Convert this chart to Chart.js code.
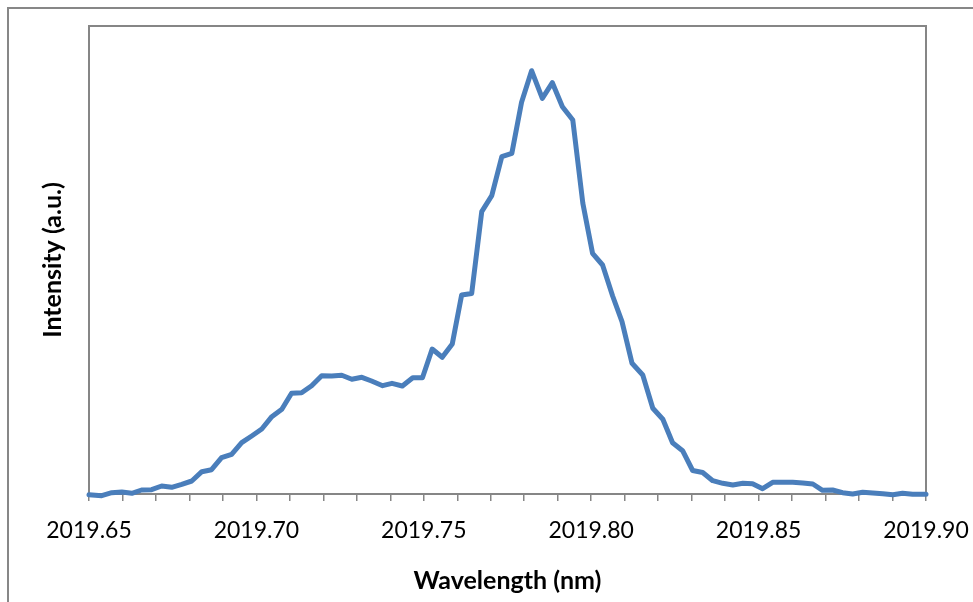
<!DOCTYPE html>
<html>
<head>
<meta charset="utf-8">
<script src="https://cdn.jsdelivr.net/npm/chart.js"></script>
<style>
    html, body { margin: 0; padding: 0; background: #fff; overflow: hidden; }
    #frame { position: absolute; left: 7px; top: 7px; width: 1000px; height: 700px; border-left: 2px solid #878787; border-top: 2px solid #878787; }
    #wrap { position: absolute; left: 0; top: 0; width: 973px; height: 602px; }
</style>
</head>
<body>
<div id="frame"></div>
<div id="wrap"><canvas id="spectrum" width="973" height="602"></canvas></div>
<script>
    // wavelength (nm)
    const wavelengths = [
        2019.6500, 2019.6538, 2019.6568, 2019.6598, 2019.6628, 2019.6657, 2019.6687, 2019.6717, 2019.6747, 2019.6777,
        2019.6807, 2019.6837, 2019.6866, 2019.6896, 2019.6926, 2019.6956, 2019.6986, 2019.7016, 2019.7046, 2019.7076,
        2019.7105, 2019.7135, 2019.7165, 2019.7195, 2019.7225, 2019.7255, 2019.7285, 2019.7315, 2019.7344, 2019.7377,
        2019.7405, 2019.7436, 2019.7467, 2019.7496, 2019.7525, 2019.7555, 2019.7585, 2019.7613, 2019.7643, 2019.7673,
        2019.7703, 2019.7733, 2019.7763, 2019.7792, 2019.7822, 2019.7854, 2019.7884, 2019.7914, 2019.7945, 2019.7975,
        2019.8004, 2019.8034, 2019.8064, 2019.8092, 2019.8122, 2019.8154, 2019.8184, 2019.8214, 2019.8243, 2019.8273,
        2019.8303, 2019.8333, 2019.8363, 2019.8393, 2019.8423, 2019.8453, 2019.8482, 2019.8512, 2019.8542, 2019.8572,
        2019.8602, 2019.8632, 2019.8662, 2019.8691, 2019.8721, 2019.8751, 2019.8781, 2019.8811, 2019.8841, 2019.8871,
        2019.8901, 2019.8930, 2019.8960, 2019.9000
    ];
    // intensity (a.u.)
    const intensity = [
        -0.7, -1.7, 1.3, 2.0, 0.7, 4.0, 4.3, 8.0, 6.7, 9.7,
        13.0, 22.3, 24.3, 36.3, 39.7, 51.3, 58.0, 65.0, 77.3, 84.7,
        100.7, 101.3, 108.3, 118.3, 118.0, 118.7, 114.7, 116.7, 113.0, 108.3,
        110.7, 108.0, 116.3, 116.3, 145.0, 136.7, 150.0, 199.0, 200.5, 282.3,
        298.3, 337.3, 340.7, 391.7, 423.3, 395.7, 411.3, 387.3, 374.0, 290.7,
        240.7, 229.0, 198.0, 172.3, 130.7, 119.0, 85.7, 74.7, 51.3, 43.3,
        23.5, 21.5, 13.3, 10.7, 9.0, 10.7, 10.3, 5.3, 11.7, 11.7,
        11.7, 11.0, 10.0, 3.7, 4.0, 1.3, 0.0, 1.7, 1.0, 0.3,
        -0.7, 0.7, -0.3, -0.3
    ];
    const xMin = 2019.65, xMax = 2019.90, xStep = 0.01;
    const yMin = 0, yMax = 468;
    const xTitle = 'Wavelength (nm)';
    const yTitle = 'Intensity (a.u.)';

    const axisGray = '#868686';

    // plot area top + right edge (Excel style box)
    const plotBox = {
        id: 'plotBox',
        beforeDatasetsDraw(chart) {
            const a = chart.chartArea;
            const ctx = chart.ctx;
            ctx.save();
            ctx.strokeStyle = axisGray;
            ctx.lineWidth = 2;
            ctx.beginPath();
            ctx.moveTo(a.left, a.top);
            ctx.lineTo(a.right, a.top);
            ctx.lineTo(a.right, a.bottom);
            ctx.stroke();
            ctx.restore();
        }
    };

    new Chart(document.getElementById('spectrum'), {
        type: 'line',
        data: {
            datasets: [{
                data: wavelengths.map((w, i) => ({ x: w, y: intensity[i] })),
                borderColor: '#4a7ebb',
                borderWidth: 5,
                pointRadius: 0,
                tension: 0,
                fill: false,
                clip: false,
                borderCapStyle: 'round',
                borderJoinStyle: 'round'
            }]
        },
        options: {
            responsive: false,
            animation: false,
            layout: { padding: { left: 0, top: 26, right: 47, bottom: 0 } },
            plugins: { legend: { display: false }, tooltip: { enabled: false } },
            scales: {
                x: {
                    type: 'linear',
                    min: xMin,
                    max: xMax,
                    afterFit: s => { s.height = 108; s.paddingLeft = 0; s.paddingRight = 0; },
                    grid: { display: true, drawOnChartArea: false, drawTicks: true, tickLength: 7, color: axisGray, lineWidth: 1.5 },
                    border: { display: true, color: axisGray, width: 2 },
                    ticks: {
                        stepSize: xStep,
                        autoSkip: false,
                        maxRotation: 0,
                        padding: 16,
                        color: '#000',
                        font: { family: 'Lato', size: 23 },
                        callback: v => (Math.round(v * 100) % 5 === 0 ? Number(v).toFixed(2) : '')
                    },
                    title: {
                        display: true,
                        text: xTitle,
                        color: '#000',
                        font: { family: 'Lato', size: 25, weight: 'bold' },
                        padding: { top: 0, bottom: 6 }
                    }
                },
                y: {
                    min: yMin,
                    max: yMax,
                    afterFit: s => { s.width = 89; },
                    grid: { display: false },
                    border: { display: true, color: axisGray, width: 2 },
                    ticks: { display: false },
                    title: {
                        display: true,
                        text: yTitle,
                        color: '#000',
                        font: { family: 'Lato', size: 25, weight: 'bold' },
                        padding: { top: 38, bottom: 0 }
                    }
                }
            }
        },
        plugins: [plotBox]
    });
</script>
</body>
</html>
